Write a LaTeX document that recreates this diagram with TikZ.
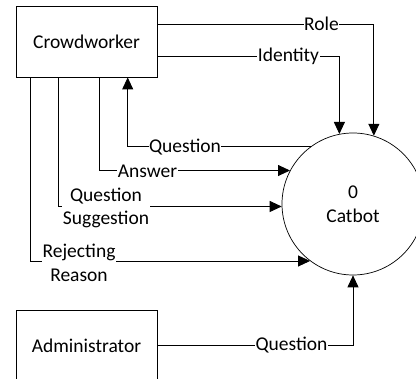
\documentclass[tikz,border=0pt]{standalone}
\usepackage{fontspec}
\setmainfont{Carlito}
\usetikzlibrary{arrows.meta}
\begin{document}
\begin{tikzpicture}[x=1pt,y=-1pt,
  every node/.style={font=\fontsize{19.5}{23.8}\selectfont},
  entity/.style={draw,line width=0.9pt,minimum width=141pt,minimum height=71pt,inner sep=0pt},
  process/.style={draw,line width=0.7pt,circle,minimum size=142pt,inner sep=0pt,align=center},
  flow/.style={line width=0.9pt,-{Triangle[length=12pt,width=11pt]}},
  lbl/.style={fill=white,inner sep=0.5pt,align=center}]
\useasboundingbox (0,0) rectangle (416,379);
\clip (0,0) rectangle (416,379);

% external entities and the process
\node[entity] (crowd) at (86.5,41.5) {Crowdworker};
\node[entity] (admin) at (86.5,345.5) {Administrator};
\node[process] (catbot) at (353,204) {0\\Catbot};

% data flows
\draw[flow] ([yshift=17.2pt]crowd.east) -| (catbot.73.9);
\draw[flow] ([yshift=-15.2pt]crowd.east) -| (catbot.101.1);
\draw[flow] (catbot.126.2) -| ([xshift=41.2pt]crowd.south);
\draw[flow] ([xshift=12.5pt]crowd.south) |- (catbot.152.3);
\draw[flow] ([xshift=-27.8pt]crowd.south) |- (catbot.182.4);
\draw[flow] ([xshift=-56pt]crowd.south) |- (catbot.233.4);
\draw[flow] (admin.east) -| (catbot.south);

% flow labels
\node[lbl] (lrole) at (321.5,24.3) {Role};
\node[lbl] (lid) at (288.5,56.7) {Identity};
\node[lbl] (lq) at (185,146.7) {Question};
\node[lbl] (lans) at (147.5,171) {Answer};
\node[lbl] (lqs) at (106,208) {Question\\Suggestion};
\node[lbl] (lrr) at (79,262.5) {Rejecting\\Reason};
\node[lbl] (laq) at (291.5,345) {Question};
\end{tikzpicture}
\end{document}
